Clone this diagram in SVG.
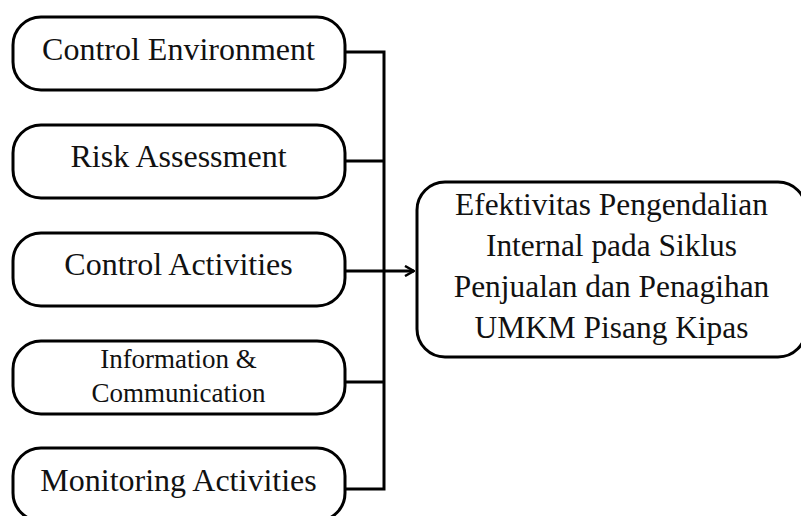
<svg xmlns="http://www.w3.org/2000/svg" width="801" height="516" viewBox="0 0 801 516">
<defs>
<style>
.box{fill:#fff;stroke:#000;stroke-width:3}
.t{font-family:"Liberation Serif","Times New Roman",serif;font-size:32px;fill:#111;text-anchor:middle}
.s{font-size:27px}
.r{font-size:31.4px}
.c{fill:none;stroke:#000;stroke-width:3}
</style>
<marker id="ah" viewBox="0 0 12 12" refX="11" refY="6" markerWidth="12" markerHeight="12" markerUnits="userSpaceOnUse" orient="auto">
<path d="M2,1 L11,6 L2,11" fill="none" stroke="#000" stroke-width="2.5"/>
</marker>
</defs>
<rect width="801" height="516" fill="#fff"/>
<g id="connectors">
<path class="c" d="M345,52 H384 V489 H345"/>
<path class="c" d="M345,161 H384"/>
<path class="c" d="M345,382 H384"/>
<path class="c" d="M345,271 H414" marker-end="url(#ah)"/>
</g>
<g id="n1"><rect class="box" x="13" y="17" width="332" height="73" rx="28"/><text class="t" x="178.5" y="60">Control Environment</text></g>
<g id="n2"><rect class="box" x="13" y="125" width="332" height="73" rx="28"/><text class="t" x="178.5" y="167">Risk Assessment</text></g>
<g id="n3"><rect class="box" x="13" y="233" width="332" height="73" rx="28"/><text class="t" x="178.5" y="275">Control Activities</text></g>
<g id="n4"><rect class="box" x="13" y="341" width="332" height="73" rx="28"/><text class="t s" x="178.5" y="368">Information &amp;</text><text class="t s" x="178.5" y="402">Communication</text></g>
<g id="n5"><rect class="box" x="13" y="448" width="332" height="73" rx="28"/><text class="t" x="178.5" y="491">Monitoring Activities</text></g>
<g id="n6"><rect class="box" x="417" y="182" width="389" height="175" rx="28"/>
<text class="t r" x="611.5" y="215">Efektivitas Pengendalian</text>
<text class="t r" x="611.5" y="256">Internal pada Siklus</text>
<text class="t r" x="611.5" y="297">Penjualan dan Penagihan</text>
<text class="t r" x="611.5" y="338">UMKM Pisang Kipas</text>
</g>
</svg>
